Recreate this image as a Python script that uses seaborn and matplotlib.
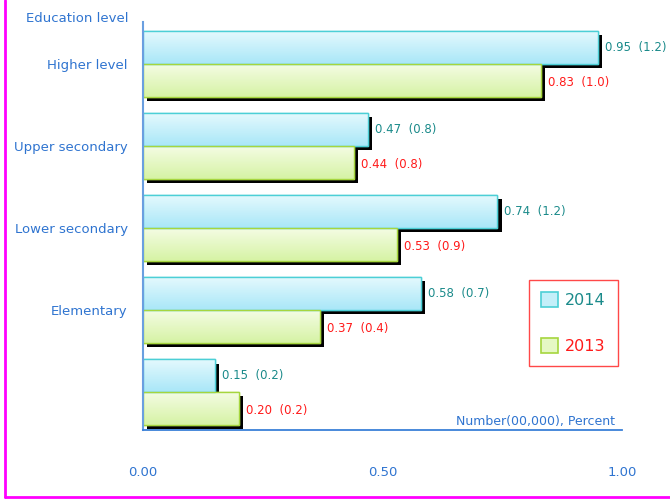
import numpy as np
import pandas as pd
import matplotlib
matplotlib.use("Agg")
import matplotlib.pyplot as plt
import matplotlib.patheffects as pe
from matplotlib.colors import LinearSegmentedColormap
from matplotlib.patches import Rectangle, Patch
from matplotlib.lines import Line2D
import seaborn as sns

categories = ["Higher level", "Upper secondary", "Lower secondary", "Elementary", ""]
years = ["2014", "2013"]
values_2014 = [0.95, 0.47, 0.74, 0.58, 0.15]
values_2013 = [0.83, 0.44, 0.53, 0.37, 0.20]
pct_2014 = ["1.2", "0.8", "1.2", "0.7", "0.2"]
pct_2013 = ["1.0", "0.8", "0.9", "0.4", "0.2"]
xticks = [0.0, 0.5, 1.0]
xtick_labels = ["0.00", "0.50", "1.00"]

sns.set_theme(style="white")
plt.rcParams["font.family"] = ["DejaVu Sans"]

df = pd.DataFrame({
    "cat": categories * 2,
    "year": [years[0]] * 5 + [years[1]] * 5,
    "value": values_2014 + values_2013,
})

BLUE_TXT = "#2f74d0"
TEAL = "#1a8a8a"
RED = "#ff1a1a"
face = {"2014": "#c4eff9", "2013": "#e6f8c4"}
edge = {"2014": "#4ccfd6", "2013": "#a6d63e"}
grad = {"2014": ("#e4f9fd", "#a9e7f8"), "2013": ("#f4fce4", "#d6f3a4")}

fig = plt.figure(figsize=(6.7, 5.0), dpi=100)
ax = fig.add_axes([143 / 670, 1 - 430 / 500, 479 / 670, 408 / 500])

sns.barplot(data=df, y="cat", x="value", hue="year", hue_order=years,
            order=categories, orient="h", width=0.8, dodge=True,
            palette=face, ax=ax, legend=False, saturation=1)

shadow = [pe.SimplePatchShadow(offset=(3, -3), shadow_rgbFace="black", alpha=1.0), pe.Normal()]
bars = [p for p in ax.patches if isinstance(p, Rectangle)]
for i, p in enumerate(bars):
    yr = years[0] if i < len(categories) else years[1]
    p.set_path_effects(shadow)
    p.set_edgecolor(edge[yr])
    p.set_linewidth(1.0)
    x0, y0, w, h = p.get_x(), p.get_y(), p.get_width(), p.get_height()
    cmap = LinearSegmentedColormap.from_list("g" + yr, list(grad[yr]))
    arr = np.linspace(0, 1, 64).reshape(-1, 1)
    im = ax.imshow(arr, cmap=cmap, extent=(x0, x0 + w, y0 + h, y0),
                   origin="upper", aspect="auto", zorder=p.get_zorder() + 0.1,
                   interpolation="bilinear")
    im.set_clip_path(p)
    ax.add_patch(Rectangle((x0, y0), w, h, facecolor="none", edgecolor=edge[yr],
                           linewidth=1.0, zorder=p.get_zorder() + 0.2))

ax.set_xlim(0, 1.0)
ax.set_ylim(4.46, -0.51)

# value labels
for i, cat in enumerate(categories):
    ax.annotate(f"{values_2014[i]:.2f}  ({pct_2014[i]})", xy=(values_2014[i], i - 0.2),
                xytext=(5, 0), textcoords="offset points", ha="left", va="center",
                color=TEAL, fontsize=8.5)
    ax.annotate(f"{values_2013[i]:.2f}  ({pct_2013[i]})", xy=(values_2013[i], i + 0.2),
                xytext=(5, -1.5), textcoords="offset points", ha="left", va="center",
                color=RED, fontsize=8.5)

ax.set_xticks(xticks)
ax.set_xticklabels(xtick_labels)
ax.tick_params(axis="x", length=0, pad=26, labelsize=9.5, labelcolor=BLUE_TXT)
ax.tick_params(axis="y", length=0, pad=11, labelsize=9.5, labelcolor=BLUE_TXT)
ax.set_xlabel("")
ax.set_ylabel("")
for s in ["top", "right"]:
    ax.spines[s].set_visible(False)
ax.spines["left"].set_color("#6a9fe0")
ax.spines["left"].set_linewidth(1.5)
ax.spines["bottom"].set_color("#3a80d8")
ax.spines["bottom"].set_linewidth(1.3)

fig.text(128 / 670, 1 - 18 / 500, "Education level", ha="right", va="center",
         color=BLUE_TXT, fontsize=9.5)
fig.text(615 / 670, 1 - 421 / 500, "Number(00,000), Percent", ha="right", va="center",
         color=BLUE_TXT, fontsize=9)

handles = [Patch(facecolor=face[y], edgecolor=edge[y], linewidth=1.2) for y in years]
leg = fig.legend(handles, years, loc="upper left", bbox_to_anchor=(529 / 670, 1 - 280 / 500),
                 frameon=True, fancybox=False, fontsize=11.5, handlelength=1.05,
                 handleheight=1.05, handletextpad=0.45, labelspacing=1.9, borderpad=0.75,
                 borderaxespad=0)
leg.get_frame().set_edgecolor(RED)
leg.get_frame().set_linewidth(1.0)
for t, c in zip(leg.get_texts(), [TEAL, RED]):
    t.set_color(c)

# magenta frame
fig.add_artist(Line2D([5 / 670, 5 / 670], [1 - 497 / 500, 1], color="#ff00ff", linewidth=2,
                      transform=fig.transFigure))
fig.add_artist(Line2D([5 / 670, 1], [1 - 497 / 500, 1 - 497 / 500], color="#ff00ff",
                      linewidth=2, transform=fig.transFigure))

fig.savefig("out.png", dpi=100)
